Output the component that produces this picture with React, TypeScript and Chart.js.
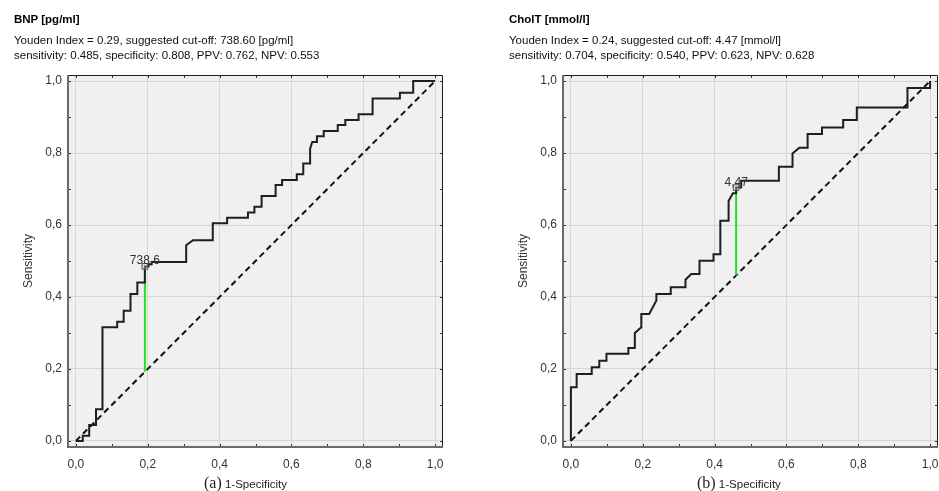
import React, { useEffect, useRef } from 'react';
import { Chart, registerables } from 'chart.js';

Chart.register(...registerables);

// ---------- data ----------
const tickValues = [0, 0.1, 0.2, 0.3, 0.4, 0.5, 0.6, 0.7, 0.8, 0.9, 1.0];

const bnpFpr = [0, 0.019, 0.019, 0.037, 0.037, 0.056, 0.056, 0.074, 0.074, 0.115, 0.115, 0.133, 0.133, 0.152, 0.152, 0.171, 0.171, 0.192, 0.192, 0.202, 0.202, 0.211, 0.211, 0.307, 0.307, 0.326, 0.381, 0.381, 0.421, 0.421, 0.479, 0.479, 0.497, 0.497, 0.517, 0.517, 0.556, 0.556, 0.574, 0.574, 0.615, 0.615, 0.633, 0.633, 0.652, 0.652, 0.658, 0.671, 0.671, 0.690, 0.690, 0.729, 0.729, 0.750, 0.750, 0.787, 0.787, 0.826, 0.826, 0.902, 0.902, 0.939, 0.939, 1.0];
const bnpTpr = [0, 0, 0.014, 0.014, 0.044, 0.044, 0.088, 0.088, 0.316, 0.316, 0.331, 0.331, 0.362, 0.362, 0.408, 0.408, 0.440, 0.440, 0.485, 0.485, 0.491, 0.491, 0.497, 0.497, 0.544, 0.558, 0.558, 0.605, 0.605, 0.620, 0.620, 0.635, 0.635, 0.651, 0.651, 0.681, 0.681, 0.711, 0.711, 0.725, 0.725, 0.741, 0.741, 0.771, 0.771, 0.812, 0.831, 0.831, 0.847, 0.847, 0.861, 0.861, 0.878, 0.878, 0.892, 0.892, 0.908, 0.908, 0.952, 0.952, 0.968, 0.968, 1.0, 1.0];
const bnpCut = [0.192, 0.485];
const bnpCutLabel = '738,6';

const cholFpr = [0, 0, 0.016, 0.016, 0.058, 0.058, 0.079, 0.079, 0.099, 0.099, 0.160, 0.160, 0.178, 0.178, 0.196, 0.196, 0.218, 0.238, 0.238, 0.278, 0.278, 0.319, 0.319, 0.335, 0.358, 0.358, 0.397, 0.397, 0.416, 0.416, 0.439, 0.439, 0.451, 0.460, 0.460, 0.474, 0.474, 0.579, 0.579, 0.617, 0.617, 0.636, 0.659, 0.659, 0.699, 0.699, 0.758, 0.758, 0.796, 0.796, 0.937, 0.937, 1.0, 1.0];
const cholTpr = [0, 0.149, 0.149, 0.186, 0.186, 0.205, 0.205, 0.223, 0.223, 0.242, 0.242, 0.258, 0.258, 0.300, 0.316, 0.353, 0.353, 0.390, 0.408, 0.408, 0.427, 0.427, 0.448, 0.464, 0.464, 0.501, 0.501, 0.519, 0.519, 0.612, 0.612, 0.667, 0.688, 0.688, 0.704, 0.704, 0.723, 0.723, 0.762, 0.762, 0.799, 0.815, 0.815, 0.853, 0.853, 0.871, 0.871, 0.892, 0.892, 0.927, 0.927, 0.981, 0.981, 1.0];
const cholCut = [0.46, 0.704];
const cholCutLabel = '4,47';

const diagonal = [0, 1];

const SANS = "'Liberation Sans', Arial, Helvetica, sans-serif";
const SERIF = "'Liberation Serif', 'Times New Roman', serif";

const isMajor = (v: number) => Math.abs(Math.round(v * 10)) % 2 === 0;
const fmt = (v: number) => (isMajor(v) ? Number(v).toFixed(1).replace('.', ',') : '');

const framePlugin = {
  id: 'frame',
  beforeDraw(chart: any) {
    const { ctx, chartArea: a } = chart;
    ctx.save();
    ctx.fillStyle = '#f0f0f0';
    ctx.fillRect(a.left, a.top, a.right - a.left, a.bottom - a.top);
    ctx.restore();
  },
  afterDraw(chart: any) {
    const { ctx, chartArea: a } = chart;
    const xs = chart.scales.x;
    const ys = chart.scales.y;
    const opts = chart.options.plugins.frame || {};
    ctx.save();
    ctx.strokeStyle = '#333';
    ctx.lineWidth = 1;
    ctx.beginPath();
    for (const v of tickValues) {
      const px = Math.round(xs.getPixelForValue(v)) + 0.5;
      ctx.moveTo(px, a.bottom);
      ctx.lineTo(px, a.bottom - 3);
      ctx.moveTo(px, a.top);
      ctx.lineTo(px, a.top + 3);
      const py = Math.round(ys.getPixelForValue(v)) + 0.5;
      ctx.moveTo(a.left, py);
      ctx.lineTo(a.left + 3, py);
      ctx.moveTo(a.right, py);
      ctx.lineTo(a.right - 3, py);
    }
    ctx.stroke();
    ctx.strokeStyle = '#1c1c1c';
    ctx.lineWidth = 1;
    ctx.beginPath();
    ctx.moveTo(a.left, a.top + 0.5);
    ctx.lineTo(a.right - 0.5, a.top + 0.5);
    ctx.lineTo(a.right - 0.5, a.bottom);
    ctx.stroke();
    ctx.strokeStyle = '#6a6a6a';
    ctx.lineWidth = 2;
    ctx.beginPath();
    ctx.moveTo(a.left, a.top);
    ctx.lineTo(a.left, a.bottom);
    ctx.lineTo(a.right, a.bottom);
    ctx.stroke();
    if (opts.label) {
      const mx = xs.getPixelForValue(opts.cut[0]);
      const my = ys.getPixelForValue(opts.cut[1]);
      ctx.fillStyle = '#333';
      ctx.font = `12px ${SANS}`;
      ctx.textAlign = 'center';
      ctx.textBaseline = 'alphabetic';
      ctx.fillText(opts.label, mx, my - 2);
    }
    ctx.restore();
  },
};

function makeConfig(fpr: number[], tpr: number[], cut: number[], label: string, padRight: number): any {
  const gridColor = (c: any) => (c.tick && isMajor(c.tick.value) ? '#d6d6d6' : 'rgba(0,0,0,0)');
  const setTicks = (s: any) => {
    s.ticks = tickValues.map((v) => ({ value: v }));
  };
  const noPad = (s: any) => {
    s.paddingLeft = 0;
    s.paddingRight = 0;
    s.paddingTop = 0;
    s.paddingBottom = 0;
  };
  return {
    type: 'scatter',
    data: {
      datasets: [
        {
          data: [{ x: cut[0], y: cut[1] }],
          pointStyle: 'rect',
          pointRadius: 4,
          borderColor: '#505050',
          borderWidth: 1,
          backgroundColor: 'rgba(210,210,210,0.35)',
          showLine: false,
        },
        {
          data: fpr.map((x, i) => ({ x, y: tpr[i] })),
          showLine: true,
          borderColor: '#1e1e1e',
          borderWidth: 2,
          pointRadius: 0,
          fill: false,
        },
        {
          data: [
            { x: cut[0], y: cut[0] },
            { x: cut[0], y: cut[1] },
          ],
          showLine: true,
          borderColor: '#22e022',
          borderWidth: 2,
          pointRadius: 0,
        },
        {
          data: diagonal.map((v) => ({ x: v, y: v })),
          showLine: true,
          borderColor: '#111',
          borderWidth: 2,
          borderDash: [6, 4],
          pointRadius: 0,
        },
      ],
    },
    options: {
      animation: false,
      responsive: false,
      events: [],
      layout: { autoPadding: false, padding: { top: 75, left: 0, right: padRight, bottom: 0 } },
      plugins: {
        legend: { display: false },
        tooltip: { enabled: false },
        frame: { label, cut },
      },
      scales: {
        x: {
          type: 'linear',
          min: -0.022,
          max: 1.022,
          afterBuildTicks: setTicks,
          afterFit: (s: any) => {
            s.height = 44;
            noPad(s);
          },
          grid: { drawTicks: false, color: gridColor, lineWidth: 1 },
          border: { display: false },
          ticks: {
            padding: 10,
            color: '#333',
            font: { family: SANS, size: 12 },
            maxRotation: 0,
            autoSkip: false,
            callback: (v: any) => fmt(Number(v)),
          },
        },
        y: {
          type: 'linear',
          min: -0.017,
          max: 1.017,
          afterBuildTicks: setTicks,
          afterFit: (s: any) => {
            s.width = 68;
            noPad(s);
          },
          grid: { drawTicks: false, color: gridColor, lineWidth: 1 },
          border: { display: false },
          ticks: {
            padding: 6,
            color: '#333',
            font: { family: SANS, size: 12 },
            autoSkip: false,
            callback: (v: any) => fmt(Number(v)),
          },
          title: {
            display: true,
            text: 'Sensitivity',
            color: '#333',
            font: { family: SANS, size: 12 },
            padding: { top: 21, bottom: 0 },
          },
        },
      },
    },
    plugins: [framePlugin],
  };
}

function RocChart(props: { fpr: number[]; tpr: number[]; cut: number[]; label: string; width: number; padRight: number }) {
  const ref = useRef<HTMLCanvasElement | null>(null);
  useEffect(() => {
    if (!ref.current) return;
    const chart = new Chart(ref.current, makeConfig(props.fpr, props.tpr, props.cut, props.label, props.padRight));
    return () => chart.destroy();
  }, []);
  return <canvas ref={ref} width={props.width} height={491} style={{ display: 'block', width: props.width, height: 491 }} />;
}

function Header(props: { left: number; title: string; line1: string; line2: string }) {
  const base: React.CSSProperties = {
    position: 'absolute',
    left: props.left,
    whiteSpace: 'nowrap',
    fontFamily: SANS,
    fontSize: 11.5,
    lineHeight: '14px',
    color: '#111',
  };
  return (
    <>
      <div style={{ ...base, top: 12, fontSize: 11.5, fontWeight: 'bold', color: '#000' }}>{props.title}</div>
      <div style={{ ...base, top: 33 }}>{props.line1}</div>
      <div style={{ ...base, top: 48 }}>{props.line2}</div>
    </>
  );
}

function XLabel(props: { left: number; tag: string }) {
  return (
    <div style={{ position: 'absolute', left: props.left, top: 473, whiteSpace: 'nowrap', color: '#222', lineHeight: '20px' }}>
      <span style={{ fontFamily: SERIF, fontSize: 16 }}>{props.tag}</span>
      <span style={{ fontFamily: SANS, fontSize: 11.5 }}> 1-Specificity</span>
    </div>
  );
}

export default function App() {
  return (
    <div style={{ position: 'fixed', left: 0, top: 0, width: 939, height: 491, background: '#fff', overflow: 'hidden' }}>
      <div style={{ position: 'absolute', left: 0, top: 0 }}>
        <RocChart fpr={bnpFpr} tpr={bnpTpr} cut={bnpCut} label={bnpCutLabel} width={446} padRight={3} />
      </div>
      <div style={{ position: 'absolute', left: 495, top: 0 }}>
        <RocChart fpr={cholFpr} tpr={cholTpr} cut={cholCut} label={cholCutLabel} width={444} padRight={1} />
      </div>
      <Header
        left={14}
        title="BNP [pg/ml]"
        line1="Youden Index = 0.29, suggested cut-off: 738.60 [pg/ml]"
        line2="sensitivity: 0.485, specificity: 0.808, PPV: 0.762, NPV: 0.553"
      />
      <Header
        left={509}
        title="CholT [mmol/l]"
        line1="Youden Index = 0.24, suggested cut-off: 4.47 [mmol/l]"
        line2="sensitivity: 0.704, specificity: 0.540, PPV: 0.623, NPV: 0.628"
      />
      <XLabel left={204} tag="(a)" />
      <XLabel left={697} tag="(b)" />
    </div>
  );
}
